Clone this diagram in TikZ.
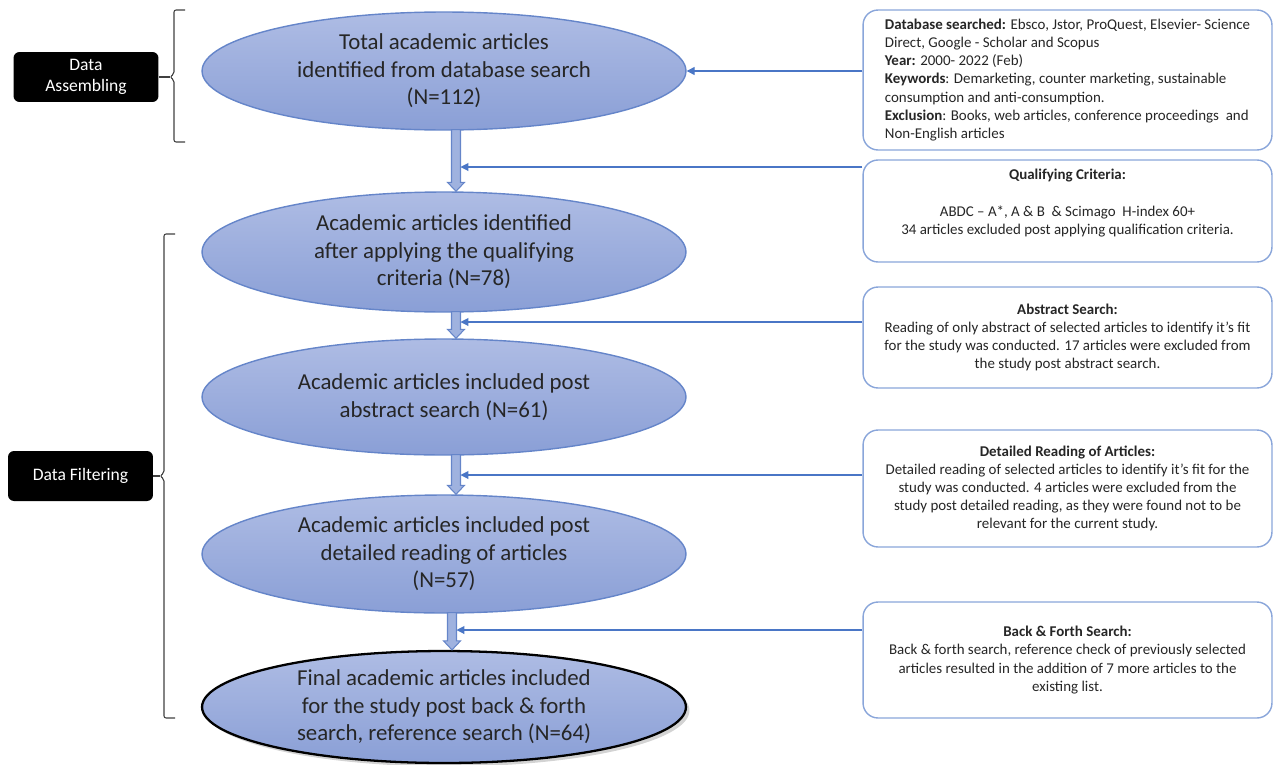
\documentclass[tikz,border=0pt]{standalone}
\usepackage{fontspec}
\setmainfont{Carlito}
\usetikzlibrary{shapes.geometric,arrows.meta,calc,shadows}
\definecolor{ellTop}{HTML}{AEBCE4}
\definecolor{ellBot}{HTML}{8A9FD6}
\definecolor{ellLine}{HTML}{6585C9}
\definecolor{arrFill}{HTML}{9FB2DF}
\definecolor{noteLine}{HTML}{8AA6DA}
\definecolor{linkBlue}{HTML}{4A76C6}
\definecolor{txtDark}{HTML}{262626}
\tikzset{
  stage/.style={ellipse, minimum width=9.68cm, minimum height=2.36cm, inner sep=0pt,
    draw=ellLine, line width=0.8pt, top color=ellTop, bottom color=ellBot,
    text=txtDark, align=center, font=\fontsize{13}{15.6}\selectfont},
  note/.style={rectangle, rounded corners=0.3cm, draw=noteLine, line width=0.8pt, fill=white,
    minimum width=8.18cm, inner sep=0pt, text=txtDark, font=\fontsize{8.5}{10.35}\selectfont},
  tag/.style={rectangle, rounded corners=0.12cm, fill=black, text=white, minimum width=2.9cm,
    minimum height=1cm, align=center, font=\fontsize{10}{12}\selectfont},
  link/.style={draw=linkBlue, line width=0.6pt, -{Triangle[length=4.5pt,width=4.5pt]}},
  flow/.style={draw=ellLine, fill=arrFill, line width=0.6pt},
  bracket/.style={draw=black!75, line width=0.6pt, rounded corners=1.2pt},
}
\newcommand{\flowdown}[2]{%
  \draw[flow] ($(#1)+(-4.5,0)$) -- ($(#2)+(-4.5,-9)$) -- ($(#2)+(-8.5,-9)$) -- (#2)
    -- ($(#2)+(8.5,-9)$) -- ($(#2)+(4.5,-9)$) -- ($(#1)+(4.5,0)$) -- cycle;}
\begin{document}
\begin{tikzpicture}[x=0.02cm, y=-0.02cm]
\useasboundingbox (0,0) rectangle (1277,764);
\node[stage] (e1) at (444,71) {Total academic articles\\identified from database search\\(N=112)};
\node[stage, minimum height=2.4cm] (e2) at (444,252) {Academic articles identified\\after applying the qualifying\\criteria (N=78)};
\node[stage, minimum height=2.32cm] (e3) at (444,397) {Academic articles included post\\abstract search (N=61)};
\node[stage] (e4) at (444,554) {Academic articles included post\\detailed reading of articles\\(N=57)};
\node[stage, minimum height=2.24cm, draw=black, line width=1.3pt,
  drop shadow={shadow xshift=2pt, shadow yshift=-2pt, opacity=0.35}] (e5) at (444,707)
  {Final academic articles included\\for the study post back \& forth\\search, reference search (N=64)};

\coordinate (t1) at ($(e1.south)+(12,-1)$);
\coordinate (t2) at ($(e2.south)+(12,-1)$);
\coordinate (t3) at ($(e3.south)+(12,-1)$);
\coordinate (t4) at ($(e4.south)+(8,-1)$);
\flowdown{t1}{$(e2.north)+(12,0)$}
\flowdown{t2}{$(e3.north)+(12,0)$}
\flowdown{t3}{$(e4.north)+(12,0)$}
\flowdown{t4}{$(e5.north)+(8,0)$}

\node[note, minimum height=2.8cm, align=left] (b1) at (1067.5,80)
  {\textbf{Database searched:} Ebsco, Jstor, ProQuest, Elsevier- Science\\
   Direct, Google - Scholar and Scopus\\
   \textbf{Year:} 2000- 2022 (Feb)\\
   \textbf{Keywords}: Demarketing, counter marketing, sustainable\\
   consumption and anti-consumption.\\
   \textbf{Exclusion}: Books, web articles, conference proceedings\ \ and\\
   Non-English articles};
\node[note, minimum height=2.04cm, align=center] (b2) at (1067.5,211)
  {\textbf{Qualifying Criteria:}\\ \mbox{}\\
   ABDC -- A*, A \& B\ \ \& Scimago\ \ H-index 60+\\
   34 articles excluded post applying qualification criteria.\\ \mbox{}};
\node[note, minimum height=2.02cm, align=center] (b3) at (1067.5,337.5)
  {\textbf{Abstract Search:}\\
   Reading of only abstract of selected articles to identify it’s fit\\
   for the study was conducted. 17 articles were excluded from\\
   the study post abstract search.};
\node[note, minimum height=2.34cm, align=center] (b4) at (1067.5,488.5)
  {\textbf{Detailed Reading of Articles:}\\
   Detailed reading of selected articles to identify it’s fit for the\\
   study was conducted. 4 articles were excluded from the\\
   study post detailed reading, as they were found not to be\\
   relevant for the current study.};
\node[note, minimum height=2.32cm, align=center] (b5) at (1067.5,660)
  {\textbf{Back \& Forth Search:}\\
   Back \& forth search, reference check of previously selected\\
   articles resulted in the addition of 7 more articles to the\\
   existing list.};

\coordinate (h2) at (460.5,167);
\coordinate (h3) at (460.5,322);
\coordinate (h4) at (460.5,475);
\coordinate (h5) at (456.5,630);
\draw[link] (b1.west |- e1.east) -- (e1.east);
\draw[link] (b2.west |- h2) -- (h2);
\draw[link] (b3.west |- h3) -- (h3);
\draw[link] (b4.west |- h4) -- (h4);
\draw[link] (b5.west |- h5) -- (h5);

\node[tag] (la) at (86,77) {Data\\Assembling};
\node[tag] (lf) at (80.5,476) {Data Filtering};
\coordinate (ba) at (170,77);
\coordinate (bf) at (160,476);
\draw[bracket] (185,10) -- (174,10) -- (174,74) -- (ba) -- (174,80) -- (174,142) -- (185,142);
\draw[bracket] (175,234) -- (164,234) -- (164,473) -- (bf) -- (164,479) -- (164,718) -- (175,718);
\draw[bracket] (la.east) -- (ba);
\draw[bracket] (lf.east) -- (bf);
\end{tikzpicture}
\end{document}
